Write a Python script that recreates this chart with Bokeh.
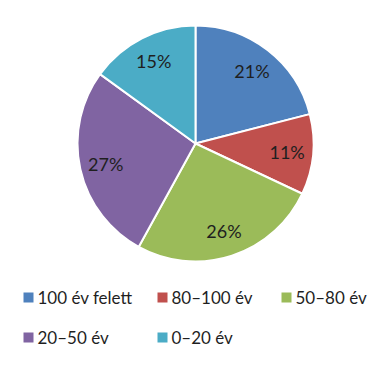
import math
from bokeh.plotting import figure
from bokeh.models import Range1d, ColumnDataSource
from bokeh.core.properties import value
from bokeh.embed import file_html
from bokeh.resources import INLINE

categories = ["100 év felett", "80–100 év", "50–80 év", "20–50 év", "0–20 év"]
shares = [21, 11, 26, 27, 15]
colors = ["#4F81BD", "#C0504D", "#9BBB59", "#8064A2", "#4BACC6"]

W, H = 374, 358
FONT = "Lato"

p = figure(width=W, height=H, output_backend="svg", toolbar_location=None,
           x_range=Range1d(0, W), y_range=Range1d(0, H), min_border=0)
p.axis.visible = False
p.grid.visible = False
p.outline_line_color = None
p.background_fill_color = "white"
p.border_fill_color = "white"

def ty(y):  # y measured from top
    return H - y

cx, cy, r = 195, ty(143), 118
total = sum(shares)
starts, ends, lx, ly, labels = [], [], [], [], []
cum = 0
for s in shares:
    a0 = math.pi / 2 - 2 * math.pi * cum / total
    cum += s
    a1 = math.pi / 2 - 2 * math.pi * cum / total
    starts.append(a1)
    ends.append(a0)
    mid = (a0 + a1) / 2
    lx.append(cx + 0.78 * r * math.cos(mid))
    ly.append(cy + 0.78 * r * math.sin(mid))
    labels.append(f"{round(100 * s / total)}%")

src = ColumnDataSource(dict(start=starts, end=ends, color=colors, lx=lx, ly=ly, label=labels))
p.wedge(x=cx, y=cy, radius=r, start_angle="start", end_angle="end", direction="anticlock",
        fill_color="color", line_color="white", line_width=2, source=src)
p.text(x="lx", y="ly", text="label", source=src, text_align="center", text_baseline="middle",
       text_font=value(FONT), text_font_size="18px", text_color="#1f1f1f")

# legend
col_x = [23, 157, 281]
row_y = [297, 337]
sq_x, sq_y, tx, tyy = [], [], [], []
for i, cat in enumerate(categories):
    c, rw = i % 3, i // 3
    sq_x.append(col_x[c] + 5)
    sq_y.append(ty(row_y[rw]))
    tx.append(col_x[c] + 14)
    tyy.append(ty(row_y[rw]))
lsrc = ColumnDataSource(dict(x=sq_x, y=sq_y, tx=tx, ty=tyy, color=colors, cat=categories))
p.rect(x="x", y="y", width=10, height=10, fill_color="color", line_color=None, source=lsrc)
p.text(x="tx", y="ty", text="cat", source=lsrc, text_align="left", text_baseline="middle",
       text_font=value(FONT), text_font_size="17px", text_color="#1f1f1f")

open("out.html", "w").write(file_html(p, INLINE))
